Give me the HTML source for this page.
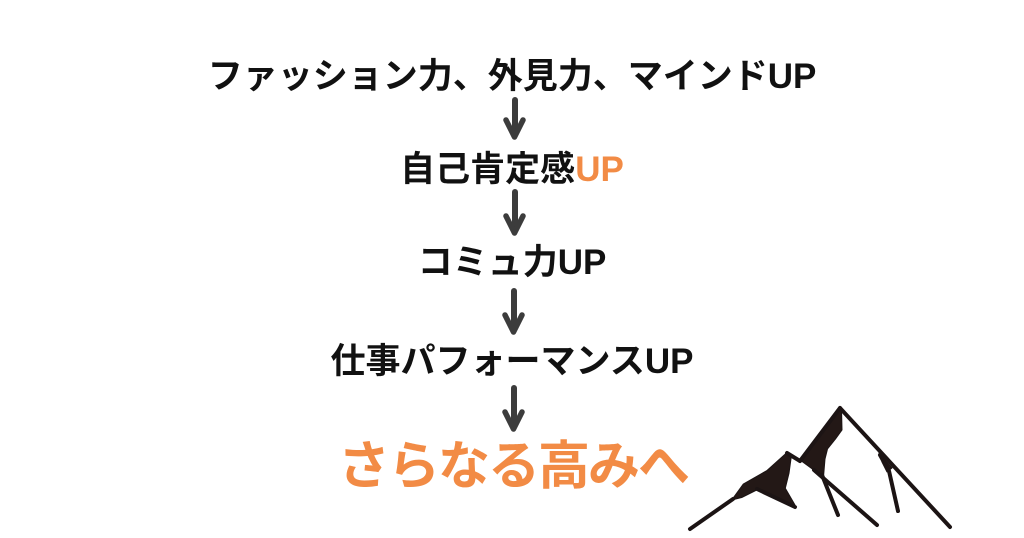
<!DOCTYPE html>
<html>
<head>
<meta charset="utf-8">
<style>
  html, body { margin: 0; padding: 0; background: #ffffff; }
  body { width: 1024px; height: 538px; overflow: hidden; }
  svg { display: block; }
  .t { font-family: "Liberation Sans", "Noto Sans CJK JP", sans-serif; font-weight: bold; fill: #111111; }
  .o { fill: #F28B45; }
</style>
</head>
<body>
<svg width="1024" height="538" viewBox="0 0 1024 538" xmlns="http://www.w3.org/2000/svg">
  <rect width="1024" height="538" fill="#ffffff"/>

  <!-- Text lines -->
  <text class="t" x="512" y="88" font-size="35" text-anchor="middle">ファッション力、外見力、マインドUP</text>
  <text class="t" x="512" y="181" font-size="35" text-anchor="middle">自己肯定感<tspan class="o">UP</tspan></text>
  <text class="t" x="512" y="274" font-size="35" text-anchor="middle">コミュ力UP</text>
  <text class="t" x="512" y="373" font-size="35" text-anchor="middle">仕事パフォーマンスUP</text>
  <text class="t o" x="513" y="484" font-size="52" letter-spacing="-2" text-anchor="middle">さらなる高みへ</text>

  <!-- Arrows -->
  <g stroke="#3c3c3c" fill="none" stroke-linecap="round" stroke-linejoin="round">
    <line x1="515" y1="100" x2="515" y2="131" stroke-width="6"/>
    <polyline points="506,120 514.5,137 523,120" stroke-width="5.5"/>

    <line x1="515" y1="192" x2="515" y2="226" stroke-width="6"/>
    <polyline points="506,216 514.5,233 523,216" stroke-width="5.5"/>

    <line x1="514" y1="291" x2="514" y2="325" stroke-width="6"/>
    <polyline points="505,315 513.5,332 522,315" stroke-width="5.5"/>

    <line x1="514" y1="388" x2="514" y2="422" stroke-width="6"/>
    <polyline points="505,412 513.5,429 522,412" stroke-width="5.5"/>
  </g>

  <!-- Mountain -->
  <g fill="#231816" stroke="#1c1414" stroke-linecap="round" stroke-linejoin="round">
    <!-- small mountain fill -->
    <polygon stroke-width="1" points="731.7,500 743.3,484 766.7,470.7 786.7,452.7 791.5,455 789,473.3 785.3,488.3 795,505 795,508.3 781.7,500.5 756.7,490 741.7,497.5"/>
    <!-- tall mountain fill -->
    <polygon stroke-width="1" points="800,460 838.3,409 841.5,408 842,430 835.5,439 827.5,449 825,459 823.5,477 812.3,469"/>
    <!-- small inner triangle on right ridge -->
    <polygon stroke-width="1" points="879,453 892,468 887,472 882,462"/>
  </g>
  <g fill="none" stroke="#1c1414" stroke-width="4" stroke-linecap="round" stroke-linejoin="round">
    <!-- left base line -->
    <line x1="690" y1="529" x2="733" y2="499"/>
    <!-- small peak ridge to tall mountain -->
    <polyline points="787,453 800,461"/>
    <!-- small mountain lower line -->
    <line x1="757" y1="489" x2="795" y2="507"/>
    <!-- tall mountain left face -->
    <line x1="800" y1="461" x2="840" y2="408"/>
    <!-- lines from tall mountain bottom -->
    <line x1="822" y1="475" x2="838" y2="515"/>
    <line x1="814" y1="470" x2="877" y2="525"/>
    <!-- right ridge -->
    <line x1="840" y1="408" x2="950" y2="527"/>
    <!-- inner right line -->
    <polyline points="880,455 889,471 898,511"/>
  </g>
</svg>
</body>
</html>
